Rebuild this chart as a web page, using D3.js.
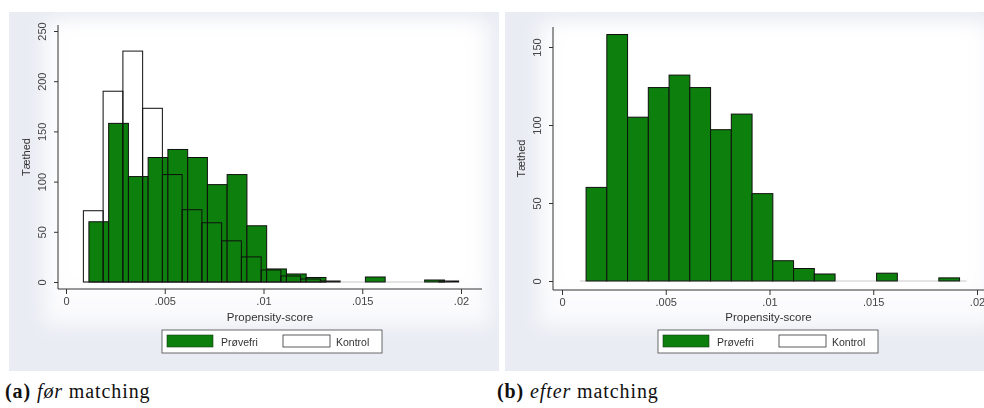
<!DOCTYPE html>
<html>
<head>
<meta charset="utf-8">
<script src="https://cdn.jsdelivr.net/npm/d3@7"></script>
<style>
  html, body { margin: 0; padding: 0; background: #ffffff; }
  svg { display: block; }
</style>
</head>
<body>
<svg id="chart" width="984" height="408"></svg>
<script>
// Histogram bins: width and left edge of the first bin for each group
const binWidth = 0.001;
const treatedStart = 0.00116;
const controlStart = 0.00088;

// Density heights per bin (treated = Prøvefri, control = Kontrol)
const treatedDensity = [60, 158, 105, 124, 132, 124, 97, 107, 56, 13, 8, 4.5, 0, 0, 5, 0, 0, 2];
const controlDensityBefore = [71, 190, 230, 173, 107, 72, 59, 41, 25, 12, 6, 3, 1, 0, 0, 0, 0, 0, 1];

// Tick values and labels
const xTickValues = [0, 0.005, 0.01, 0.015, 0.02];
const xTickLabels = ["0", ".005", ".01", ".015", ".02"];
const yTicksBefore = [0, 50, 100, 150, 200, 250];
const yTicksAfter = [0, 50, 100, 150];

const legendLabels = ["Prøvefri", "Kontrol"];
const captions = [
  { tag: "(a)", em: "før", rest: "matching" },
  { tag: "(b)", em: "efter", rest: "matching" }
];

const GREEN = "#087f08";
const FONT = "'Liberation Sans', Arial, sans-serif";

const svg = d3.select("#chart");
const defs = svg.append("defs");
defs.append("filter").attr("id", "soft")
  .attr("x", "-20%").attr("y", "-20%").attr("width", "140%").attr("height", "140%")
  .append("feGaussianBlur").attr("stdDeviation", 9);
defs.append("filter").attr("id", "haze")
  .append("feGaussianBlur").attr("stdDeviation", 0.35);

function toBins(values, start) {
  return values.map((v, i) => ({ x0: start + i * binWidth, x1: start + (i + 1) * binWidth, v }));
}

const panels = [
  {
    box: { x: 9, y: 12, w: 490, h: 359 },
    xRange: [66, 461], yDomain: [0, 250], yRange: [282, 31],
    plot: { left: 58, right: 482, top: 25, bottom: 289 },
    yTicks: yTicksBefore,
    series: [
      { bins: toBins(treatedDensity, treatedStart), fill: GREEN },
      { bins: toBins(controlDensityBefore, controlStart), fill: "none" }
    ],
    legendX: 162, caption: captions[0], captionX: 5
  },
  {
    box: { x: 505, y: 12, w: 500, h: 359 },
    xRange: [562, 977], yDomain: [0, 150], yRange: [281, 47],
    plot: { left: 553, right: 984, top: 27, bottom: 290 },
    yTicks: yTicksAfter,
    series: [
      { bins: toBins(treatedDensity, treatedStart), fill: GREEN }
    ],
    legendX: 658, caption: captions[1], captionX: 497
  }
];

panels.forEach(p => {
  const g = svg.append("g");
  const clipId = "clip" + p.box.x;
  defs.append("clipPath").attr("id", clipId)
    .append("rect").attr("x", p.box.x).attr("y", p.box.y).attr("width", p.box.w).attr("height", p.box.h);

  // Graph region background with a whiter centre
  const bg = g.append("g").attr("clip-path", `url(#${clipId})`);
  bg.append("rect").attr("x", p.box.x).attr("y", p.box.y).attr("width", p.box.w).attr("height", p.box.h)
    .attr("fill", "#e9ecf3");
  bg.append("rect").attr("x", p.plot.left - 14).attr("y", p.plot.top - 4)
    .attr("width", p.plot.right - p.plot.left + 22).attr("height", p.plot.bottom - p.plot.top + 40)
    .attr("fill", "#fbfbfd").attr("filter", "url(#soft)");
  bg.append("rect").attr("x", p.plot.left).attr("y", p.plot.top)
    .attr("width", p.plot.right - p.plot.left - 6).attr("height", p.plot.bottom - p.plot.top)
    .attr("fill", "#ffffff").attr("filter", "url(#soft)");

  const x = d3.scaleLinear().domain([0, 0.02]).range(p.xRange);
  const y = d3.scaleLinear().domain(p.yDomain).range(p.yRange);

  const marks = g.append("g").attr("clip-path", `url(#${clipId})`).attr("filter", "url(#haze)");

  // Bars
  p.series.forEach(s => {
    marks.append("g").selectAll("rect")
      .data(s.bins.filter(b => b.v > 0))
      .join("rect")
      .attr("x", b => x(b.x0))
      .attr("y", b => y(b.v))
      .attr("width", b => x(b.x1) - x(b.x0))
      .attr("height", b => y(0) - y(b.v))
      .attr("fill", s.fill)
      .attr("stroke", "#111")
      .attr("stroke-width", 1);
  });

  // Baseline under the bars
  marks.append("line")
    .attr("x1", x(p.series[0].bins[0].x0) - 6).attr("x2", x(0.0195))
    .attr("y1", y(0)).attr("y2", y(0))
    .attr("stroke", "#555").attr("stroke-width", 0.6).attr("opacity", 0.5);

  // Y axis
  const yAxis = d3.axisLeft(y).tickValues(p.yTicks).tickSize(4).tickPadding(4);
  const yg = marks.append("g").attr("transform", `translate(${p.plot.left},0)`).call(yAxis);
  yg.select(".domain").remove();
  yg.append("line").attr("x1", 0).attr("x2", 0).attr("y1", p.plot.top).attr("y2", p.plot.bottom)
    .attr("stroke", "#333");
  yg.selectAll(".tick line").attr("stroke", "#333");
  yg.selectAll(".tick text")
    .attr("font-family", FONT).attr("font-size", 11).attr("fill", "#444")
    .attr("text-anchor", "middle").attr("dy", 0)
    .attr("transform", "translate(-12,0) rotate(-90)")
    .attr("x", 0).attr("y", 0);

  // X axis
  const xAxis = d3.axisBottom(x).tickValues(xTickValues)
    .tickFormat((d, i) => xTickLabels[i]).tickSize(5).tickPadding(3);
  const xg = marks.append("g").attr("transform", `translate(0,${p.plot.bottom})`).call(xAxis);
  xg.select(".domain").remove();
  xg.append("line").attr("x1", p.plot.left).attr("x2", p.plot.right)
    .attr("y1", 0).attr("y2", 0).attr("stroke", "#333");
  xg.selectAll(".tick line").attr("stroke", "#333");
  xg.selectAll(".tick text").attr("font-family", FONT).attr("font-size", 11).attr("fill", "#444");

  // Axis titles
  marks.append("text")
    .attr("x", (p.plot.left + p.plot.right) / 2).attr("y", 321)
    .attr("text-anchor", "middle").attr("font-family", FONT).attr("font-size", 11.5).attr("fill", "#333")
    .text("Propensity-score");
  marks.append("text")
    .attr("transform", `translate(${p.plot.left - 28},${(p.plot.top + p.plot.bottom) / 2}) rotate(-90)`)
    .attr("text-anchor", "middle").attr("font-family", FONT).attr("font-size", 11).attr("fill", "#333")
    .text("Tæthed");

  // Legend
  const lg = marks.append("g").attr("transform", `translate(${p.legendX},330)`);
  lg.append("rect").attr("x", 0).attr("y", 0).attr("width", 220).attr("height", 23)
    .attr("fill", "#ffffff").attr("stroke", "#444").attr("stroke-width", 0.8);
  lg.append("rect").attr("x", 5).attr("y", 5).attr("width", 46).attr("height", 12)
    .attr("fill", GREEN).attr("stroke", "#1a3a1a").attr("stroke-width", 0.6);
  lg.append("text").attr("x", 59).attr("y", 15.5)
    .attr("font-family", FONT).attr("font-size", 10.5).attr("fill", "#333").text(legendLabels[0]);
  lg.append("rect").attr("x", 121).attr("y", 5).attr("width", 47).attr("height", 12)
    .attr("fill", "#ffffff").attr("stroke", "#333").attr("stroke-width", 0.8);
  lg.append("text").attr("x", 174).attr("y", 15.5)
    .attr("font-family", FONT).attr("font-size", 10.5).attr("fill", "#333").text(legendLabels[1]);

  // Sub-figure caption
  const cap = svg.append("text").attr("x", p.captionX).attr("y", 398)
    .attr("font-family", "'Liberation Serif', 'DejaVu Serif', serif").attr("font-size", 20)
    .attr("letter-spacing", 0.9).attr("fill", "#111");
  cap.append("tspan").attr("font-weight", "bold").text(p.caption.tag + " ");
  cap.append("tspan").attr("font-style", "italic").text(p.caption.em);
  cap.append("tspan").text(" " + p.caption.rest);
});
</script>
</body>
</html>
